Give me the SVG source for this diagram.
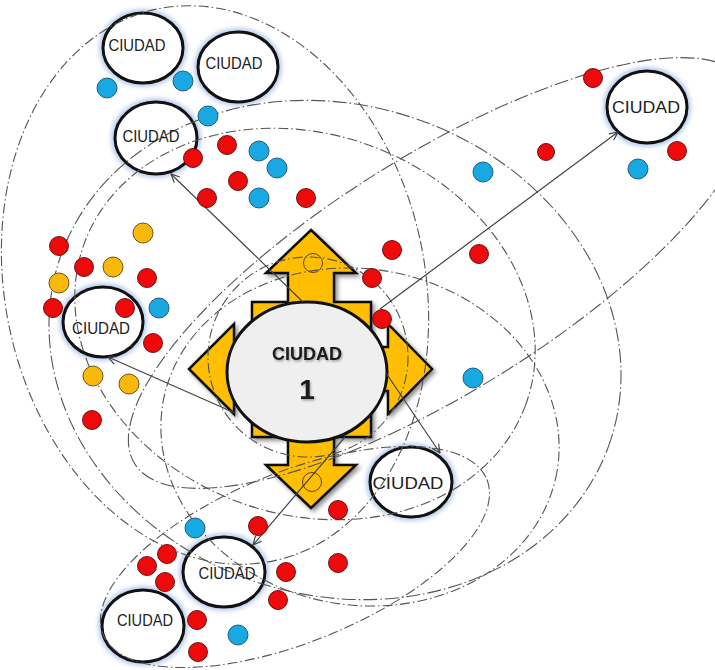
<svg xmlns="http://www.w3.org/2000/svg" width="715" height="670" viewBox="0 0 715 670">
<defs>
<filter id="glow" x="-30%" y="-30%" width="160%" height="160%"><feGaussianBlur stdDeviation="2"/></filter>
<filter id="shadow" x="-20%" y="-20%" width="140%" height="140%"><feDropShadow dx="2.5" dy="2.5" stdDeviation="2" flood-color="#000" flood-opacity="0.45"/></filter>
<filter id="tshadow" x="-20%" y="-20%" width="140%" height="140%"><feDropShadow dx="1" dy="1.5" stdDeviation="0.8" flood-color="#000" flood-opacity="0.35"/></filter>
<marker id="arr" viewBox="0 0 10 10" refX="9.5" refY="5" markerWidth="10" markerHeight="10" markerUnits="userSpaceOnUse" orient="auto"><path d="M1,1 L9.5,5 L1,9" fill="none" stroke="#444" stroke-width="1.2"/></marker>
</defs>
<style>
.dd{fill:none;stroke:#555;stroke-width:1.1;stroke-dasharray:10 3 1.5 3}
.dl{fill:none;stroke:#555;stroke-width:1.1;stroke-dasharray:14 3 1.5 3}
.glow{fill:none;stroke:#9fbbe8;stroke-width:8;opacity:0.75;filter:url(#glow)}
.city{fill:#fff;stroke:#111;stroke-width:3}
.ct{font-family:"Liberation Sans",Arial,sans-serif;font-size:17px;fill:#222;text-anchor:middle;dominant-baseline:central}
.r{fill:#ee0a0a;stroke:#5a0a0a;stroke-width:0.9}
.b{fill:#18a9e2;stroke:#1d4f72;stroke-width:0.9}
.y{fill:#f8b90a;stroke:#5c4510;stroke-width:0.9}
.con{stroke:#444;stroke-width:1.2;fill:none;marker-end:url(#arr)}
</style>

<!-- city ellipses (fill) -->
<g id="city-a"><ellipse class="glow" cx="143" cy="48" rx="40" ry="35"/><ellipse class="city" cx="143" cy="48" rx="40" ry="35"/></g>
<g id="city-b"><ellipse class="glow" cx="238" cy="67" rx="40" ry="35"/><ellipse class="city" cx="238" cy="67" rx="40" ry="35"/></g>
<g id="city-c"><ellipse class="glow" cx="156" cy="138" rx="41" ry="36"/><ellipse class="city" cx="156" cy="138" rx="41" ry="36"/></g>
<g id="city-d"><ellipse class="glow" cx="647" cy="107" rx="40" ry="36"/><ellipse class="city" cx="647" cy="107" rx="40" ry="36"/></g>
<g id="city-e"><ellipse class="glow" cx="103" cy="322" rx="40" ry="35"/><ellipse class="city" cx="103" cy="322" rx="40" ry="35"/></g>
<g id="city-f"><ellipse class="glow" cx="411" cy="482" rx="41" ry="35"/><ellipse class="city" cx="411" cy="482" rx="41" ry="35"/></g>
<g id="city-g"><ellipse class="glow" cx="224" cy="572" rx="41" ry="35"/><ellipse class="city" cx="224" cy="572" rx="41" ry="35"/></g>
<g id="city-h"><ellipse class="glow" cx="143" cy="626" rx="41" ry="36"/><ellipse class="city" cx="143" cy="626" rx="41" ry="36"/></g>

<!-- central cross arrow -->
<g id="cross">
<polygon filter="url(#shadow)" fill="#ffbf00" stroke="#111" stroke-width="2.5" stroke-linejoin="miter" points="311,230 356,273 334,273 334,302 371,302 371,347 388,347 388,324 432,369 388,414 388,391 371,391 371,437 334,437 334,465 356,465 311,508 266,465 288,465 288,437 252,437 252,391 234,391 234,414 189,369 234,324 234,347 252,347 252,302 288,302 288,273 266,273"/>
<circle cx="313" cy="263" r="9.5" fill="none" stroke="#5c4510" stroke-width="1"/>
<circle cx="312" cy="482" r="9.5" fill="none" stroke="#5c4510" stroke-width="1"/>
</g>

<!-- dash-dot influence areas -->
<g id="areas">
<ellipse class="dd" cx="215" cy="285" rx="210" ry="282" transform="rotate(-12 215 285)"/>
<ellipse class="dl" cx="335" cy="350" rx="290" ry="245" transform="rotate(18 335 350)"/>
<ellipse class="dd" cx="305" cy="324" rx="235" ry="190" transform="rotate(20 305 324)"/>
<ellipse class="dd" cx="360" cy="437" rx="200" ry="168" transform="rotate(10 360 437)"/>
<ellipse class="dd" cx="308" cy="357" rx="100" ry="100"/>
<ellipse class="dl" cx="440" cy="273" rx="360" ry="118" transform="rotate(-32 440 273)"/>
<ellipse class="dd" cx="295" cy="557" rx="207" ry="85" transform="rotate(-22 295 557)"/>
</g>

<!-- central city -->
<g id="city-1">
<ellipse cx="307" cy="372" rx="80" ry="70" fill="#efefef" stroke="#111" stroke-width="3"/>
<text x="307" y="360" filter="url(#tshadow)" font-family="'Liberation Sans',Arial,sans-serif" font-weight="bold" font-size="18" fill="#1a1a1a" text-anchor="middle">CIUDAD</text>
<text x="307" y="399" filter="url(#tshadow)" font-family="'Liberation Sans',Arial,sans-serif" font-weight="bold" font-size="28" fill="#1a1a1a" text-anchor="middle">1</text>
</g>

<!-- connectors -->
<g id="connectors">
<line class="con" x1="303" y1="302" x2="171" y2="174"/>
<line class="con" x1="380" y1="309" x2="618" y2="132"/>
<line class="con" x1="235" y1="413" x2="108" y2="357"/>
<line class="con" x1="386" y1="373" x2="440" y2="453"/>
<line class="con" x1="345" y1="437" x2="253" y2="545"/>
</g>

<!-- dots -->
<g id="dots">
<circle class="r" cx="193" cy="158" r="9.5"/><circle class="r" cx="227" cy="145" r="9.5"/><circle class="r" cx="238" cy="181" r="9.5"/><circle class="r" cx="207" cy="198" r="9.5"/><circle class="r" cx="306" cy="198" r="9.5"/>
<circle class="r" cx="59" cy="246" r="9.5"/><circle class="r" cx="84" cy="267" r="9.5"/><circle class="r" cx="147" cy="278" r="9.5"/><circle class="r" cx="53" cy="308" r="9.5"/><circle class="r" cx="125" cy="308" r="9.5"/><circle class="r" cx="153" cy="343" r="9.5"/><circle class="r" cx="92" cy="420" r="9.5"/>
<circle class="r" cx="392" cy="250" r="9.5"/><circle class="r" cx="479" cy="254" r="9.5"/><circle class="r" cx="372" cy="278" r="9.5"/><circle class="r" cx="382" cy="319" r="9.5"/>
<circle class="r" cx="593" cy="78" r="9.5"/><circle class="r" cx="546" cy="152" r="8.5"/><circle class="r" cx="677" cy="151" r="9.5"/>
<circle class="r" cx="338" cy="510" r="9.5"/><circle class="r" cx="258" cy="526" r="9.5"/><circle class="r" cx="167" cy="554" r="9.5"/><circle class="r" cx="147" cy="566" r="9.5"/><circle class="r" cx="165" cy="582" r="9.5"/><circle class="r" cx="286" cy="572" r="9.5"/><circle class="r" cx="338" cy="563" r="9.5"/><circle class="r" cx="278" cy="600" r="9.5"/><circle class="r" cx="197" cy="620" r="9.5"/><circle class="r" cx="198" cy="652" r="9.5"/>
<circle class="b" cx="107" cy="88" r="10"/><circle class="b" cx="183" cy="81" r="10"/><circle class="b" cx="208" cy="116" r="10"/><circle class="b" cx="259" cy="151" r="10"/><circle class="b" cx="277" cy="168" r="10"/><circle class="b" cx="259" cy="198" r="10"/><circle class="b" cx="483" cy="172" r="10"/><circle class="b" cx="638" cy="169" r="10"/><circle class="b" cx="159" cy="308" r="10"/><circle class="b" cx="473" cy="378" r="10"/><circle class="b" cx="195" cy="528" r="10"/><circle class="b" cx="238" cy="635" r="10"/>
<circle class="y" cx="143" cy="233" r="10"/><circle class="y" cx="113" cy="267" r="10"/><circle class="y" cx="59" cy="283" r="10"/><circle class="y" cx="93" cy="376" r="10"/><circle class="y" cx="129" cy="384" r="10"/>
</g>

<!-- city labels -->
<g id="labels">
<text class="ct" x="137" y="45" textLength="57" lengthAdjust="spacingAndGlyphs">CIUDAD</text>
<text class="ct" x="234" y="63" textLength="57" lengthAdjust="spacingAndGlyphs">CIUDAD</text>
<text class="ct" x="151" y="136" textLength="57" lengthAdjust="spacingAndGlyphs">CIUDAD</text>
<text class="ct" x="646" y="107" font-size="20px" textLength="68" lengthAdjust="spacingAndGlyphs">CIUDAD</text>
<text class="ct" x="101" y="328" textLength="58" lengthAdjust="spacingAndGlyphs">CIUDAD</text>
<text class="ct" x="408" y="483" font-size="21px" textLength="71" lengthAdjust="spacingAndGlyphs">CIUDAD</text>
<text class="ct" x="227" y="573" textLength="57" lengthAdjust="spacingAndGlyphs">CIUDAD</text>
<text class="ct" x="145" y="620" textLength="56" lengthAdjust="spacingAndGlyphs">CIUDAD</text>
</g>
</svg>
